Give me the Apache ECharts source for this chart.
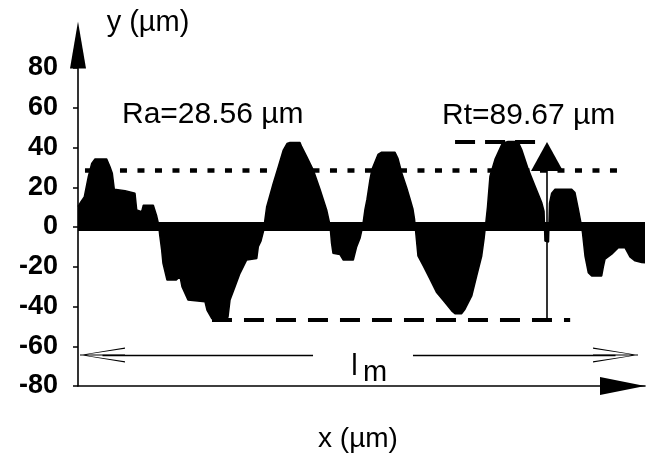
<!DOCTYPE html>
<html>
<head>
<meta charset="utf-8">
<script src="https://cdn.jsdelivr.net/npm/echarts@6/dist/echarts.min.js"></script>
<style>
  html, body { margin: 0; padding: 0; background: #ffffff; }
  #chart { width: 649px; height: 465px; }
</style>
</head>
<body>
<div id="chart"></div>
<script>
// ---- data ----
const yTicks = [-80, -60, -40, -20, 0, 20, 40, 60, 80];
const xRange = [0, 100];
// profile abscissae (arbitrary length units along the sampling length)
const profileX = [0, 0.53, 1.11, 1.82, 2.42, 3.0, 5.06, 5.64, 6.05, 6.4, 8.29, 10.05, 10.35, 11.23, 11.52, 13.28, 13.88, 14.2, 14.41, 14.76, 14.99, 15.7, 17.28, 17.99, 18.34, 19.4, 22.4, 22.75, 23.63, 23.86, 26.23, 26.46, 26.81, 27.69, 28.57, 29.75, 31.53, 31.8, 32.28, 32.72, 32.98, 33.28, 34.44, 35.33, 36.21, 36.86, 37.39, 39.15, 39.45, 40.34, 41.5, 42.68, 43.86, 44.44, 44.71, 44.97, 46.21, 46.79, 48.55, 49.15, 49.74, 50.18, 50.62, 50.97, 51.5, 51.85, 52.91, 53.56, 55.91, 56.44, 57.09, 57.97, 58.55, 59.08, 59.35, 59.61, 59.96, 60.9, 62.08, 63.26, 64.73, 65.91, 66.49, 67.67, 68.25, 69.44, 70.32, 71.2, 71.61, 71.96, 72.22, 72.66, 73.54, 74.73, 75.31, 75.84, 77.6, 78.25, 79.42, 80.6, 81.78, 82.19, 82.36, 82.98, 83.16, 83.54, 84.13, 87.07, 87.65, 88.24, 88.71, 88.98, 89.42, 90.0, 90.6, 92.36, 92.65, 92.95, 94.13, 95.29, 96.47, 97.35, 98.24, 99.42, 100];
// profile heights y (µm)
const profileY = [10.2, 12.7, 15.2, 25.3, 32, 34.2, 34.2, 30.3, 27, 19, 18.3, 17, 8.6, 7.7, 11, 11, 5.5, 1.5, -4, -11.6, -18.3, -26.7, -26.7, -25, -30, -36.7, -37.6, -41.8, -46.2, -46.67, -46.67, -45.1, -36.7, -30, -23.3, -16.6, -15.8, -9.9, -7, -2, 4, 10.2, 22, 30.3, 38.7, 42, 42.5, 42.5, 40.4, 35.4, 28.7, 19, 8.6, 1, -8, -13.2, -13.9, -16.6, -16.6, -9.9, -5.7, 0, 9, 14, 24, 29, 36.5, 37.6, 37.6, 34.4, 27.3, 19.8, 14.2, 8.9, 4, -4, -14.6, -19.6, -26.3, -33, -38, -42.2, -43.6, -43.6, -41.4, -34.7, -24.6, -14.6, -6, 3, 10, 25.6, 34, 41.5, 42.5, 43, 43, 39, 29, 20.6, 12.3, 8, -7, -7.5, 12, 17, 19, 19, 17.3, 9, 2, -3, -14.6, -23, -24.6, -24.6, -20, -16.2, -13.7, -10.4, -10.4, -15, -17, -17.9, -18];
// roughness parameters
const Ra = 28.56;
const Rt = 89.67;
const peakY = 43.0;
const valleyY = peakY - Rt;   // -46.67
const lmY = -64.4;
const labels = {
  yName: 'y (µm)',
  xName: 'x (µm)',
  ra: 'Ra=28.56 µm',
  rt: 'Rt=89.67 µm',
  lmMain: 'l',
  lmSub: 'm'
};

// ---- chart ----
const FONT = '"Liberation Sans", Arial, Helvetica, sans-serif';
const profile = profileX.map((x, i) => [x, profileY[i]]);
const openArrow = 'path://M5,0L10,30L9.2,30L5,1.8L0.8,30L0,30Z M4.6,0L5.4,0L5.4,30L4.6,30Z';

function lineSeries(name, markData, extra) {
  return {
    name: name,
    type: 'line',
    data: [],
    silent: true,
    markLine: Object.assign({
      silent: true,
      animation: false,
      symbol: ['none', 'none'],
      label: { show: false },
      data: markData
    }, extra || {})
  };
}

const chart = echarts.init(document.getElementById('chart'), null, { renderer: 'canvas' });
chart.setOption({
  animation: false,
  backgroundColor: '#ffffff',
  grid: { left: 78, right: 4, top: 68, bottom: 79, containLabel: false },
  xAxis: {
    type: 'value',
    min: xRange[0],
    max: xRange[1],
    axisLine: {
      onZero: false,
      lineStyle: { color: '#000', width: 1.6 },
      symbol: ['none', 'triangle'],
      symbolSize: [18, 45],
      symbolOffset: [0, -22.5]
    },
    axisTick: { show: false },
    axisLabel: { show: false },
    splitLine: { show: false }
  },
  yAxis: {
    type: 'value',
    min: yTicks[0],
    max: yTicks[yTicks.length - 1],
    interval: yTicks[1] - yTicks[0],
    axisLine: {
      show: true,
      onZero: false,
      lineStyle: { color: '#000', width: 1.6 },
      symbol: ['none', 'triangle'],
      symbolSize: [16, 47],
      symbolOffset: [0, 23]
    },
    axisTick: { show: true, length: 5, lineStyle: { color: '#000', width: 1.5 } },
    axisLabel: {
      margin: 20,
      color: '#000',
      fontFamily: FONT,
      fontSize: 27,
      fontWeight: 'bold'
    },
    splitLine: { show: false }
  },
  series: [
    {
      name: 'profile',
      type: 'line',
      data: profile,
      showSymbol: false,
      silent: true,
      lineStyle: { color: '#000', width: 1.5 },
      areaStyle: { color: '#000', opacity: 1, origin: 0 },
      markLine: {
        silent: true,
        animation: false,
        symbol: ['none', 'none'],
        label: { show: false },
        lineStyle: { color: '#000', width: 9, type: 'solid' },
        data: [{ yAxis: 0.3 }]
      }
    },
    lineSeries('Ra', [[
      { coord: [1.23, Ra], lineStyle: { color: '#000', width: 4.5, type: [7, 10.5], cap: 'butt' } },
      { coord: [95.6, Ra] }
    ]]),
    lineSeries('valley', [[
      { coord: [23.63, valleyY], lineStyle: { color: '#000', width: 4, type: [20, 12], cap: 'butt' } },
      { coord: [86.8, valleyY] }
    ]]),
    lineSeries('peak', [[
      { coord: [66.5, peakY], lineStyle: { color: '#000', width: 4, type: [20, 10], cap: 'butt' } },
      { coord: [81.1, peakY] }
    ]]),
    lineSeries('Rt arrow', [[
      { coord: [82.72, valleyY], lineStyle: { color: '#000', width: 1.6, type: 'solid' } },
      { coord: [82.72, 35.5] }
    ]], { symbol: ['none', 'triangle'], symbolSize: [32, 29] }),
    lineSeries('lm left', [[
      { coord: [4.32, lmY], lineStyle: { color: '#000', width: 1.3, type: 'solid' } },
      { coord: [41.45, lmY] }
    ]], { symbol: [openArrow, 'none'], symbolSize: [15, 45] }),
    lineSeries('lm right', [[
      { coord: [59.08, lmY], lineStyle: { color: '#000', width: 1.3, type: 'solid' } },
      { coord: [94.8, lmY] }
    ]], { symbol: ['none', openArrow], symbolSize: [15, 45] })
  ],
  graphic: [
    { type: 'text', x: 148, y: 23, style: { text: labels.yName, fontFamily: FONT, fontSize: 29, fill: '#000', textAlign: 'center', textVerticalAlign: 'middle' } },
    { type: 'text', x: 122, y: 115, style: { text: labels.ra, fontFamily: FONT, fontSize: 30, fill: '#000', textAlign: 'left', textVerticalAlign: 'middle' } },
    { type: 'text', x: 442, y: 116, style: { text: labels.rt, fontFamily: FONT, fontSize: 30, fill: '#000', textAlign: 'left', textVerticalAlign: 'middle' } },
    { type: 'text', x: 354.5, y: 367, style: { text: labels.lmMain, fontFamily: FONT, fontSize: 29, fill: '#000', textAlign: 'center', textVerticalAlign: 'middle' } },
    { type: 'text', x: 375, y: 373, style: { text: labels.lmSub, fontFamily: FONT, fontSize: 29, fill: '#000', textAlign: 'center', textVerticalAlign: 'middle' } },
    { type: 'text', x: 358, y: 439, style: { text: labels.xName, fontFamily: FONT, fontSize: 28, fill: '#000', textAlign: 'center', textVerticalAlign: 'middle' } }
  ]
});
</script>
</body>
</html>
